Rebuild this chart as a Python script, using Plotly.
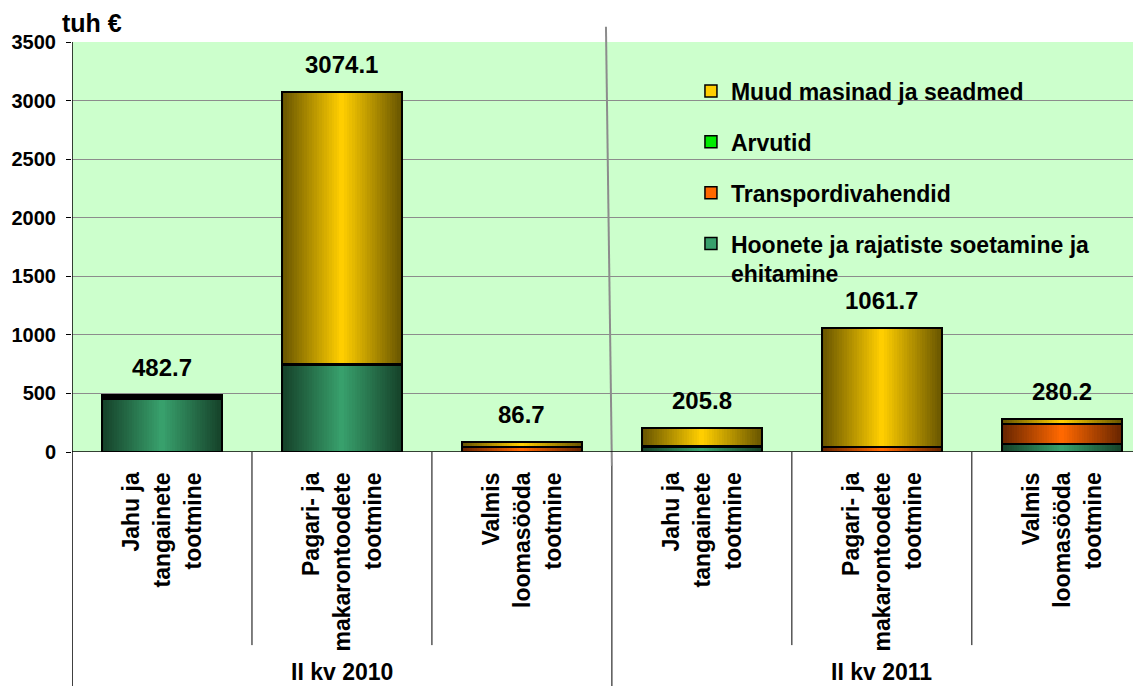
import plotly.graph_objects as go

# categories (one slot per bar) and their group
cat_lines = [
    ["Jahu ja", "tangainete", "tootmine"],
    ["Pagari- ja", "makarontoodete", "tootmine"],
    ["Valmis", "loomasööda", "tootmine"],
    ["Jahu ja", "tangainete", "tootmine"],
    ["Pagari- ja", "makarontoodete", "tootmine"],
    ["Valmis", "loomasööda", "tootmine"],
]
groups = ["II kv 2010", "II kv 2011"]

# stacked values, tuh €
hoonete = [455, 740, 0, 40, 0, 70]
transport = [0, 0, 45, 0, 45, 170]
arvutid = [12, 10, 0, 10, 0, 0]
muud = [15.7, 2324.1, 41.7, 155.8, 1016.7, 40.2]
totals = [482.7, 3074.1, 86.7, 205.8, 1061.7, 280.2]

FONT = "Liberation Sans"
xs = list(range(len(totals)))

# series: name, values, dark edge colour, light centre colour
series = [
    ("Hoonete ja rajatiste soetamine ja<br>ehitamine", hoonete, (22, 66, 42), (56, 160, 108)),
    ("Transpordivahendid", transport, (105, 38, 0), (255, 104, 0)),
    ("Arvutid", arvutid, (0, 90, 0), (0, 235, 0)),
    ("Muud masinad ja seadmed", muud, (105, 86, 0), (255, 206, 0)),
]

fig = go.Figure()

W = 0.67
N = 24
base = [0] * len(xs)
for name, vals, dark, light in series:
    for k in range(N):
        t = k / (N - 1)
        c = tuple(int(dark[i] + (light[i] - dark[i]) * t) for i in range(3))
        fig.add_trace(go.Bar(
            x=xs, y=vals, base=base, width=W * (1 - k / N),
            marker=dict(color="rgb(%d,%d,%d)" % c, line=dict(width=0)),
            showlegend=False, hoverinfo="skip"))
    # outline
    fig.add_trace(go.Bar(
        x=xs, y=vals, base=base, width=W,
        marker=dict(color="rgba(0,0,0,0)", line=dict(color="black", width=2)),
        showlegend=False, hoverinfo="skip"))
    base = [b + v for b, v in zip(base, vals)]

# legend entries (top to bottom)
for i, (name, vals, dark, light) in enumerate(reversed(series)):
    fig.add_trace(go.Bar(
        x=[None], y=[None], name=name, legendgroup="g%d" % i,
        marker=dict(color="rgb(%d,%d,%d)" % light, line=dict(color="black", width=1.5))))

# totals
for x, t in zip(xs, totals):
    fig.add_annotation(x=x, y=t, text="<b>%.1f</b>" % t, showarrow=False,
                       yanchor="bottom", yshift=12,
                       font=dict(family=FONT, size=24, color="black"))

# rotated category labels
for x, lines in zip(xs, cat_lines):
    n = len(lines)
    for j, ln in enumerate(lines):
        fig.add_annotation(x=x, y=-0.044, xref="x", yref="paper", text="<b>%s</b>" % ln,
                           textangle=-90, showarrow=False, yanchor="top", xanchor="center",
                           xshift=(j - (n - 1) / 2) * 31,
                           font=dict(family=FONT, size=23, color="black"))

for gx, g in zip([1, 4], groups):
    fig.add_annotation(x=gx, y=-0.537, xref="x", yref="paper", text="<b>%s</b>" % g,
                       showarrow=False, yanchor="middle",
                       font=dict(family=FONT, size=23, color="black"))

fig.add_annotation(x=-0.011, y=1.046, xref="paper", yref="paper", text="<b>tuh €</b>",
                   showarrow=False, xanchor="left", yanchor="middle",
                   font=dict(family=FONT, size=25, color="black"))

# separators
for sx in [0.5, 1.5, 3.5, 4.5]:
    fig.add_shape(type="line", xref="x", yref="paper", x0=sx, x1=sx, y0=0, y1=-0.471,
                  line=dict(color="black", width=1))
fig.add_shape(type="line", xref="x", yref="paper", x0=-0.5, x1=-0.5, y0=1, y1=-0.6,
              line=dict(color="black", width=1.5))
fig.add_shape(type="line", xref="x", yref="paper", x0=2.467, x1=2.5, y0=1.037, y1=-0.034,
              line=dict(color="#8c8c8c", width=2))
fig.add_shape(type="line", xref="x", yref="paper", x0=2.5, x1=2.5, y0=-0.034, y1=-0.6,
              line=dict(color="black", width=1))
fig.add_shape(type="line", xref="paper", yref="y", x0=0, x1=1, y0=0, y1=0,
              line=dict(color="black", width=1.5))

fig.update_layout(
    width=1141, height=686,
    margin=dict(l=64, r=8, t=34, b=242),
    paper_bgcolor="white", plot_bgcolor="#CCFFCC",
    barmode="overlay", bargap=0,
    font=dict(family=FONT, color="black"),
    legend=dict(x=0.579, y=0.933, xanchor="left", yanchor="top",
                bgcolor="rgba(0,0,0,0)", traceorder="grouped", tracegroupgap=18,
                valign="top", font=dict(family=FONT, size=23, weight="bold")),
    xaxis=dict(range=[-0.5, 5.44], showticklabels=False, showgrid=False,
               zeroline=False, ticks="", automargin=False),
    yaxis=dict(range=[0, 3500], dtick=500, showgrid=True, gridcolor="#8c8c8c",
               gridwidth=1, zeroline=False, ticks="outside", ticklen=5,
               tickcolor="black", showline=False, automargin=False,
               ticklabelstandoff=6,
               tickfont=dict(family=FONT, size=20, weight="bold")),
)

fig.write_html("out.html")
